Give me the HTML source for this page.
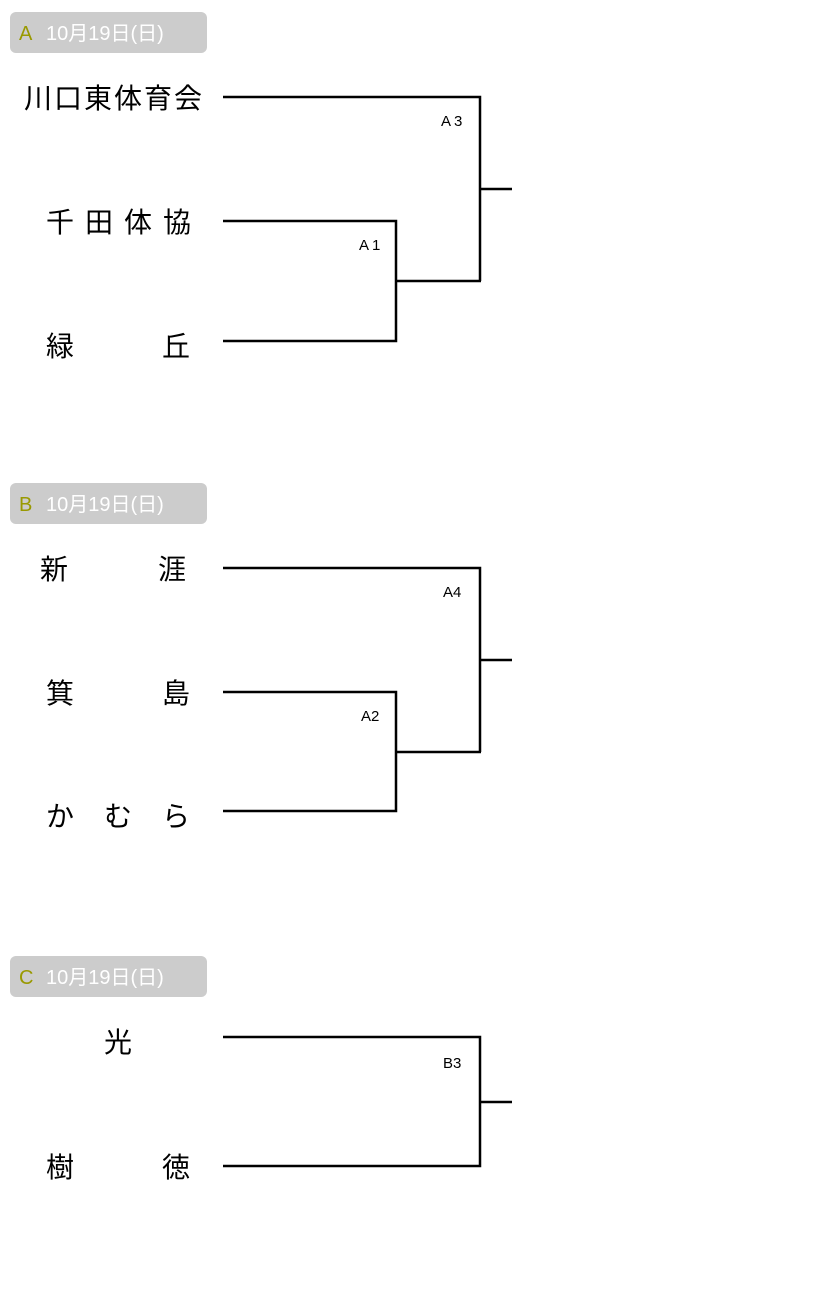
<!DOCTYPE html>
<html><head><meta charset="utf-8"><style>
body{margin:0;background:#fff;}
svg{display:block;font-family:"Liberation Sans","Noto Sans CJK JP",sans-serif;}
.n{font-size:28px;fill:#000;}
.l{font-size:15px;fill:#000;}
.h{font-size:20px;fill:#fff;}
.hl{font-size:20px;fill:#999900;}
</style></head><body>
<svg width="840" height="1302" viewBox="0 0 840 1302">
<g fill="#cccccc">
<rect x="10" y="12" width="197" height="41" rx="6"/>
<rect x="10" y="483" width="197" height="41" rx="6"/>
<rect x="10" y="956" width="197" height="41" rx="6"/>
</g>
<text class="hl" x="19" y="40">A</text><text class="h" x="46" y="40">10月19日(日)</text>
<text class="hl" x="19" y="511">B</text><text class="h" x="46" y="511">10月19日(日)</text>
<text class="hl" x="19" y="984">C</text><text class="h" x="46" y="984">10月19日(日)</text>

<g stroke="#000" stroke-width="2.5" fill="none">
<polyline points="223,97 480,97 480,281"/>
<line x1="480" y1="189" x2="512" y2="189"/>
<polyline points="223,221 396,221 396,341 223,341"/>
<line x1="396" y1="281" x2="481" y2="281"/>

<polyline points="223,568 480,568 480,752"/>
<line x1="480" y1="660" x2="512" y2="660"/>
<polyline points="223,692 396,692 396,811 223,811"/>
<line x1="396" y1="752" x2="481" y2="752"/>

<polyline points="223,1037 480,1037 480,1166 223,1166"/>
<line x1="480" y1="1102" x2="512" y2="1102"/>
</g>

<text class="l" x="441" y="126" letter-spacing="3">A3</text>
<text class="l" x="359" y="250" letter-spacing="3">A1</text>
<text class="l" x="443" y="597">A4</text>
<text class="l" x="361" y="721">A2</text>
<text class="l" x="443" y="1068">B3</text>

<text class="n" x="24" y="108" letter-spacing="2">川口東体育会</text>
<text class="n" x="46" y="232" letter-spacing="11">千田体協</text>
<text class="n" x="46" y="356">緑</text><text class="n" x="162" y="356">丘</text>
<text class="n" x="40" y="579">新</text><text class="n" x="158" y="579">涯</text>
<text class="n" x="46" y="703">箕</text><text class="n" x="162" y="703">島</text>
<text class="n" x="46" y="826">か</text><text class="n" x="104" y="826">む</text><text class="n" x="162" y="826">ら</text>
<text class="n" x="104" y="1052">光</text>
<text class="n" x="46" y="1177">樹</text><text class="n" x="162" y="1177">徳</text>
</svg>
</body></html>
